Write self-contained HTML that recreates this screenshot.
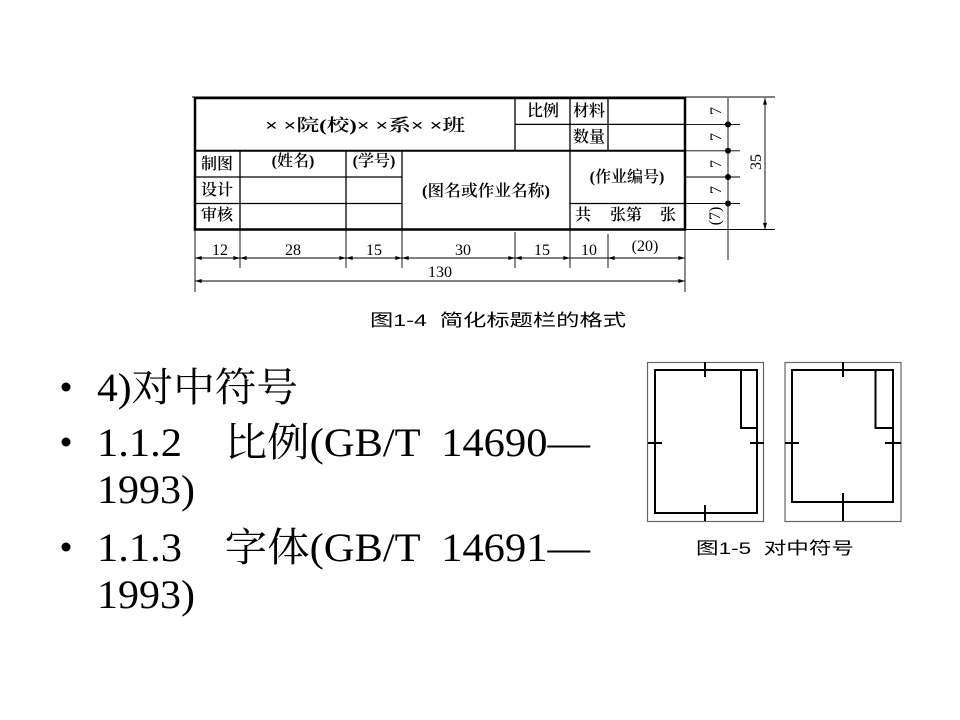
<!DOCTYPE html>
<html><head><meta charset="utf-8"><style>
html,body{margin:0;padding:0;background:#fff;width:960px;height:720px;overflow:hidden}
svg{display:block}
text{white-space:pre}
.t{font-family:"Liberation Serif","Noto Serif CJK SC",serif;fill:#000}
.s{font-family:"Liberation Sans","Noto Sans CJK SC",sans-serif;fill:#000}
</style></head><body>
<svg width="960" height="720" viewBox="0 0 960 720" xmlns="http://www.w3.org/2000/svg" xml:space="preserve">
<defs>
<marker id="a" viewBox="0 0 10 6" refX="10" refY="3" markerWidth="8" markerHeight="4" orient="auto-start-reverse" markerUnits="userSpaceOnUse"><path d="M0,0L10,3L0,6z" fill="#000"/></marker>
</defs>
<g stroke="#000" fill="none">
<rect x="195" y="98" width="490" height="131.5" stroke-width="2.5"/>
<line x1="195" y1="150.8" x2="685" y2="150.8" stroke-width="2"/>
<line x1="192" y1="97" x2="775" y2="97" stroke-width="1"/>
<g stroke-width="1.3">
<line x1="515" y1="98" x2="515" y2="150.8"/>
<line x1="570" y1="98" x2="570" y2="229.5"/>
<line x1="608" y1="98" x2="608" y2="150.8"/>
<line x1="515" y1="124.4" x2="685" y2="124.4"/>
<line x1="240" y1="150.8" x2="240" y2="229.5"/>
<line x1="346" y1="150.8" x2="346" y2="229.5"/>
<line x1="402" y1="150.8" x2="402" y2="229.5"/>
<line x1="195" y1="177" x2="402" y2="177"/>
<line x1="195" y1="203.5" x2="402" y2="203.5"/>
<line x1="570" y1="203.5" x2="685" y2="203.5"/>
</g>
<g stroke-width="0.9">
<line x1="195" y1="229" x2="195" y2="292"/>
<line x1="240" y1="229" x2="240" y2="268"/>
<line x1="346" y1="229" x2="346" y2="268"/>
<line x1="402" y1="229" x2="402" y2="268"/>
<line x1="515" y1="232" x2="515" y2="268"/>
<line x1="570" y1="229" x2="570" y2="268"/>
<line x1="608" y1="234" x2="608" y2="268"/>
<line x1="685" y1="229" x2="685" y2="292"/>
<line x1="195" y1="258" x2="240" y2="258" marker-start="url(#a)" marker-end="url(#a)"/>
<line x1="240" y1="258" x2="346" y2="258" marker-start="url(#a)" marker-end="url(#a)"/>
<line x1="346" y1="258" x2="402" y2="258" marker-start="url(#a)" marker-end="url(#a)"/>
<line x1="402" y1="258" x2="515" y2="258" marker-start="url(#a)" marker-end="url(#a)"/>
<line x1="515" y1="258" x2="570" y2="258" marker-start="url(#a)" marker-end="url(#a)"/>
<line x1="570" y1="258" x2="608" y2="258"/>
<line x1="608" y1="258" x2="685" y2="258" marker-start="url(#a)" marker-end="url(#a)"/>
<line x1="195" y1="281" x2="685" y2="281" marker-start="url(#a)" marker-end="url(#a)"/>
<line x1="685" y1="124.4" x2="740" y2="124.4"/>
<line x1="685" y1="150.8" x2="740" y2="150.8"/>
<line x1="685" y1="177" x2="740" y2="177"/>
<line x1="685" y1="203.5" x2="740" y2="203.5"/>
<line x1="685" y1="229.5" x2="775" y2="229.5"/>
<line x1="728" y1="98" x2="728" y2="260"/>
<line x1="765" y1="98" x2="765" y2="229.5" marker-start="url(#a)" marker-end="url(#a)"/>
</g>
<g fill="#000" stroke="none">
<circle cx="728" cy="124.4" r="3"/><circle cx="728" cy="150.8" r="3"/><circle cx="728" cy="177" r="3"/><circle cx="728" cy="203.5" r="3"/>
</g>
<rect x="647.5" y="362.5" width="116" height="159" stroke="#666" stroke-width="1.2"/>
<g stroke-width="2">
<rect x="655" y="370" width="102" height="143"/>
<polyline points="741,370 741,428 757,428"/>
<line x1="705" y1="362" x2="705" y2="377"/>
<line x1="648" y1="443" x2="662" y2="443"/>
<line x1="750" y1="443" x2="764" y2="443"/>
<line x1="705" y1="505" x2="705" y2="521"/>
</g>
<rect x="785" y="362.5" width="116" height="159" stroke="#666" stroke-width="1.2"/>
<g stroke-width="2">
<rect x="792" y="370" width="101" height="132"/>
<polyline points="875.5,370 875.5,428 893,428"/>
<line x1="843" y1="362" x2="843" y2="377"/>
<line x1="785" y1="443" x2="799" y2="443"/>
<line x1="885" y1="443" x2="901" y2="443"/>
<line x1="843" y1="493" x2="843" y2="521"/>
</g>
</g>
<g class="t" font-size="16" font-weight="bold" style="font-weight:600">
<text x="365" y="131" text-anchor="middle" font-size="17" textLength="200" lengthAdjust="spacingAndGlyphs">× ×院(校)× ×系× ×班</text>
<text x="543" y="116" text-anchor="middle">比例</text>
<text x="589" y="116" text-anchor="middle">材料</text>
<text x="589" y="142" text-anchor="middle">数量</text>
<text x="217" y="169" text-anchor="middle">制图</text>
<text x="217" y="195" text-anchor="middle">设计</text>
<text x="217" y="220" text-anchor="middle">审核</text>
<text x="293" y="166" text-anchor="middle">(姓名)</text>
<text x="374" y="166" text-anchor="middle">(学号)</text>
<text x="486" y="196" text-anchor="middle" textLength="128" lengthAdjust="spacingAndGlyphs">(图名或作业名称)</text>
<text x="627" y="182" text-anchor="middle">(作业编号)</text>
<text x="575" y="220">共</text><text x="610" y="220">张第</text><text x="660" y="220">张</text>
</g>
<g class="t" font-size="16">
<text x="220" y="255" text-anchor="middle">12</text>
<text x="293" y="255" text-anchor="middle">28</text>
<text x="374" y="255" text-anchor="middle">15</text>
<text x="463" y="255" text-anchor="middle">30</text>
<text x="542" y="255" text-anchor="middle">15</text>
<text x="589" y="255" text-anchor="middle">10</text>
<text x="645" y="251" text-anchor="middle">(20)</text>
<text x="440" y="277" text-anchor="middle">130</text>
<text transform="translate(721,111) rotate(-90)" text-anchor="middle">7</text>
<text transform="translate(721,137) rotate(-90)" text-anchor="middle">7</text>
<text transform="translate(721,164) rotate(-90)" text-anchor="middle">7</text>
<text transform="translate(721,190) rotate(-90)" text-anchor="middle">7</text>
<text transform="translate(720,216) rotate(-90)" text-anchor="middle">(7)</text>
<text transform="translate(761,162) rotate(-90)" text-anchor="middle">35</text>
</g>
<text class="s" x="498" y="326" font-size="17" text-anchor="middle" textLength="256" lengthAdjust="spacingAndGlyphs">图1-4  简化标题栏的格式</text>
<text class="s" x="775" y="554" font-size="17" text-anchor="middle" textLength="158" lengthAdjust="spacingAndGlyphs">图1-5  对中符号</text>
<g class="t" font-size="40">
<circle cx="66" cy="387" r="4.5" fill="#000"/>
<circle cx="66" cy="442" r="4.5" fill="#000"/>
<circle cx="66" cy="547" r="4.5" fill="#000"/>
<text x="97" y="401" textLength="201" lengthAdjust="spacingAndGlyphs">4)对中符号</text>
<text x="97" y="456" textLength="493" lengthAdjust="spacingAndGlyphs">1.1.2    比例(GB/T  14690—</text>
<text x="97" y="503" textLength="98" lengthAdjust="spacingAndGlyphs">1993)</text>
<text x="97" y="561" textLength="493" lengthAdjust="spacingAndGlyphs">1.1.3    字体(GB/T  14691—</text>
<text x="97" y="608" textLength="98" lengthAdjust="spacingAndGlyphs">1993)</text>
</g>
</svg>
</body></html>
